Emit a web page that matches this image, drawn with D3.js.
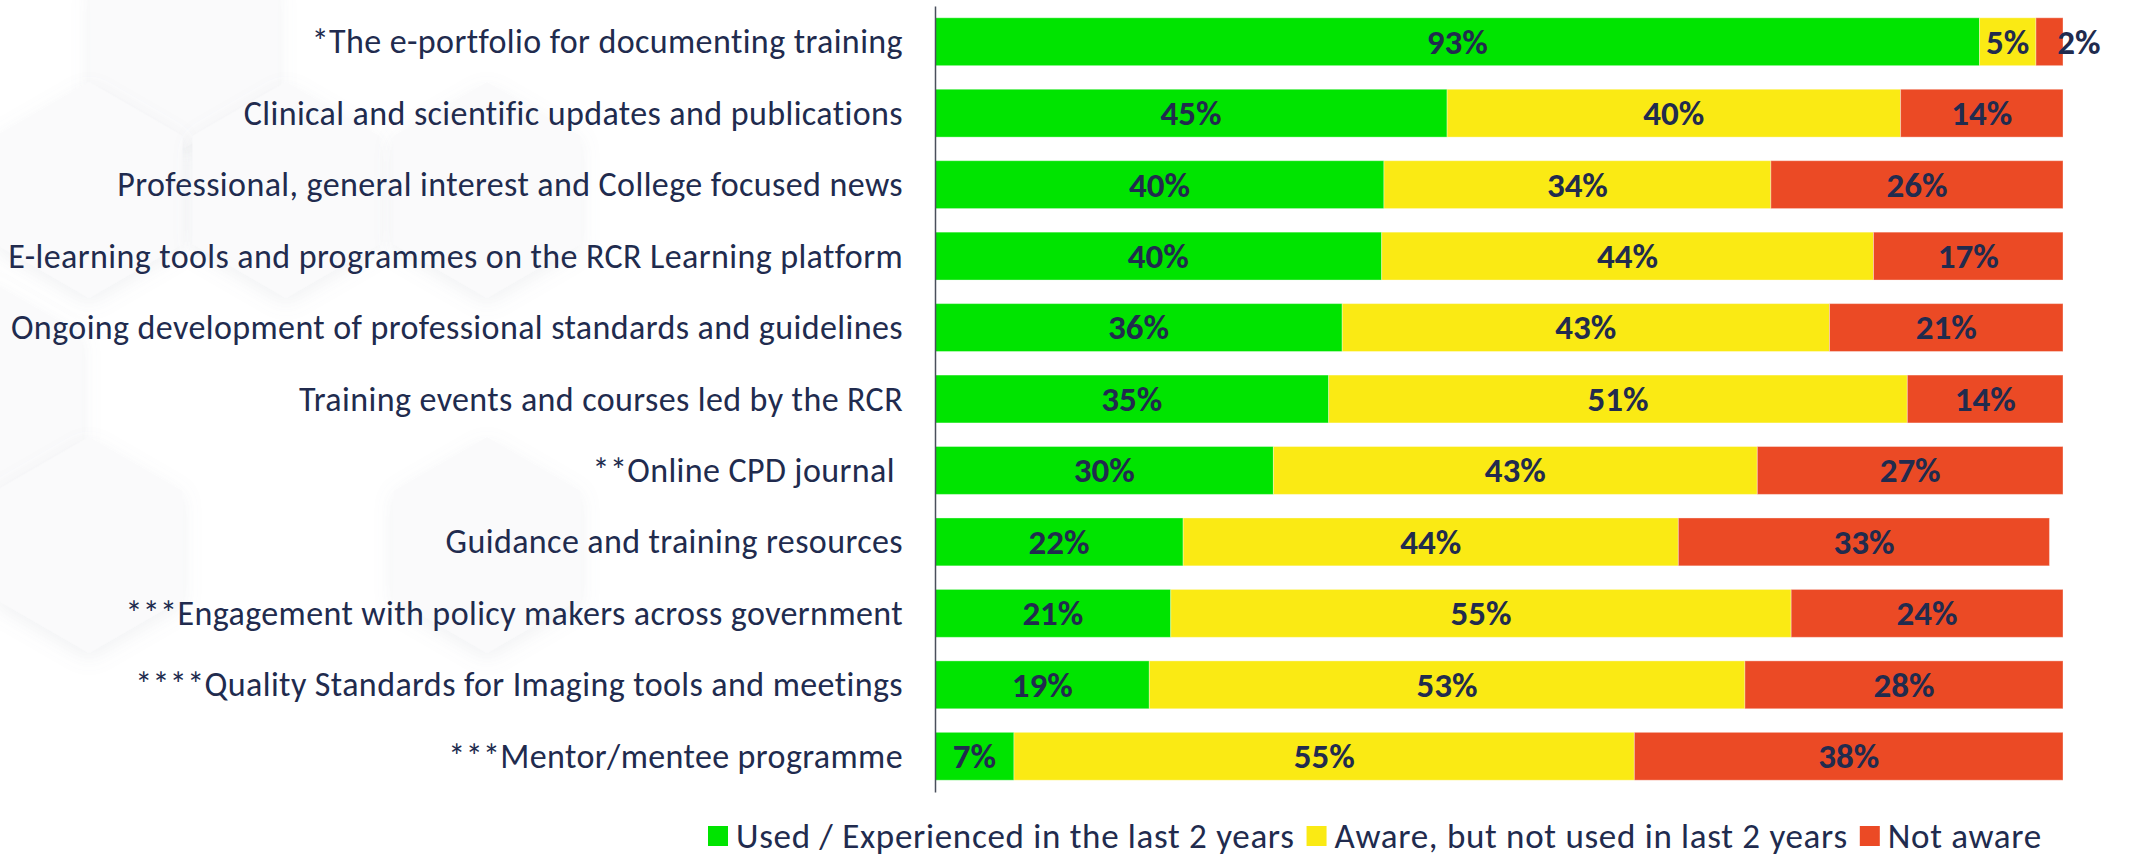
<!DOCTYPE html>
<html>
<head>
<meta charset="utf-8">
<script src="https://cdn.jsdelivr.net/npm/d3@7"></script>
<style>
  body { margin: 0; background: #fff; }
  svg { display: block; }
</style>
</head>
<body>
<div id="chart"></div>
<script>
var categories = [
    "*The e-portfolio for documenting training",
    "Clinical and scientific updates and publications",
    "Professional, general interest and College focused news",
    "E-learning tools and programmes on the RCR Learning platform",
    "Ongoing development of professional standards and guidelines",
    "Training events and courses led by the RCR",
    "**Online CPD journal ",
    "Guidance and training resources",
    "***Engagement with policy makers across government",
    "****Quality Standards for Imaging tools and meetings",
    "***Mentor/mentee programme"
];

var seriesNames = [
    "Used / Experienced in the last 2 years",
    "Aware, but not used in last 2 years",
    "Not aware"
];

// percent of respondents
var usedValues     = [92.6, 45.4, 39.8, 39.6, 36.1, 34.9, 30.0, 22.0, 20.9, 19.0, 7.0];
var awareValues    = [5.0, 40.2, 34.3, 43.6, 43.2, 51.3, 42.9, 43.9, 55.0, 52.8, 55.0];
var notAwareValues = [2.4, 14.4, 25.9, 16.8, 20.7, 13.8, 27.1, 32.9, 24.1, 28.2, 38.0];

var colors = ["#00e400", "#faea14", "#eb4a25"];
var textColor = "#212b4e";
var font = "Carlito, Calibri, 'Open Sans', sans-serif";

var width = 2130, height = 861;

// background hexagons (decoration only)
var hexCenters = [[184, 40], [89, 190], [286, 190], [487, 190], [-12, 388], [89, 545], [487, 545]];

var table = categories.map(function(c, i) {
    var row = {category: c};
    row[seriesNames[0]] = usedValues[i];
    row[seriesNames[1]] = awareValues[i];
    row[seriesNames[2]] = notAwareValues[i];
    return row;
});

var stacked = d3.stack().keys(seriesNames)(table);

var svg = d3.select("#chart").append("svg")
    .attr("width", width)
    .attr("height", height);

var defs = svg.append("defs");
var shadow = defs.append("filter")
    .attr("id", "soft")
    .attr("x", "-30%").attr("y", "-30%")
    .attr("width", "160%").attr("height", "160%");
shadow.append("feDropShadow")
    .attr("dx", 0).attr("dy", 6)
    .attr("stdDeviation", 10)
    .attr("flood-color", "#8a8fa0")
    .attr("flood-opacity", 0.12);

var hexR = 108;
var hexLine = d3.line();
svg.append("g")
    .selectAll("path")
    .data(hexCenters)
  .enter().append("path")
    .attr("d", function(c) {
        var pts = d3.range(6).map(function(k) {
            var a = Math.PI / 3 * k - Math.PI / 2;
            return [c[0] + hexR * Math.cos(a), c[1] + hexR * Math.sin(a)];
        });
        return hexLine(pts) + "Z";
    })
    .attr("fill", "#fafafb")
    .attr("filter", "url(#soft)");

var x = d3.scaleLinear()
    .domain([0, 100])
    .range([935, 2063]);

var y = d3.scaleBand()
    .domain(categories)
    .range([6, 792])
    .paddingInner(0.33)
    .paddingOuter(0.165);

// bars
var layer = svg.append("g")
    .selectAll("g")
    .data(stacked)
  .enter().append("g")
    .attr("fill", function(d, i) { return colors[i]; });

layer.selectAll("rect")
    .data(function(d) { return d; })
  .enter().append("rect")
    .attr("x", function(d) { return x(d[0]); })
    .attr("y", function(d) { return y(d.data.category); })
    .attr("width", function(d) { return x(d[1]) - x(d[0]); })
    .attr("height", y.bandwidth())
    .attr("stroke", "#ffffff")
    .attr("stroke-opacity", 0.35)
    .attr("stroke-width", 1);

// value labels
layer.selectAll("text")
    .data(function(d) { return d; })
  .enter().append("text")
    .attr("x", function(d) {
        var w = x(d[1]) - x(d[0]);
        // too narrow: push label past the bar end
        if (w < 40) return x(d[1]) + 16;
        return (x(d[0]) + x(d[1])) / 2;
    })
    .attr("y", function(d) { return y(d.data.category) + y.bandwidth() / 2; })
    .attr("dy", "0.34em")
    .attr("text-anchor", "middle")
    .attr("fill", textColor)
    .style("font-family", font)
    .style("font-weight", 700)
    .style("font-size", "35px")
    .text(function(d) { return d3.format(".0f")(d[1] - d[0]) + "%"; });

// category axis
var axis = svg.append("g")
    .attr("transform", "translate(935,0)")
    .call(d3.axisLeft(y).tickSize(0).tickSizeOuter(0).tickPadding(32));

axis.select(".domain")
    .attr("stroke", "#4a4f5c")
    .attr("stroke-width", 1.5);

axis.selectAll("text")
    .attr("fill", textColor)
    .attr("dy", "0.34em")
    .style("font-family", font)
    .style("font-size", "34px")
    .style("letter-spacing", "0.4px")
    .style("white-space", "pre");

// legend
var legend = svg.append("g")
    .attr("transform", "translate(708,836)");

var lx = 0;
seriesNames.forEach(function(name, i) {
    var item = legend.append("g").attr("transform", "translate(" + lx + ",0)");
    item.append("rect")
        .attr("x", 0)
        .attr("y", -10)
        .attr("width", 20)
        .attr("height", 20)
        .attr("fill", colors[i]);
    var t = item.append("text")
        .attr("x", 28)
        .attr("dy", "0.34em")
        .attr("fill", textColor)
        .style("font-family", font)
        .style("font-size", "35px")
        .style("letter-spacing", "0.7px")
        .text(name);
    lx += 28 + t.node().getComputedTextLength() + 12;
});
</script>
</body>
</html>
